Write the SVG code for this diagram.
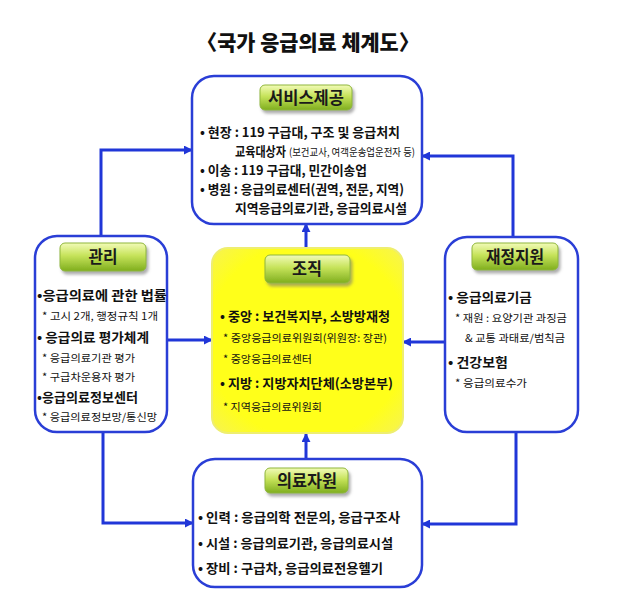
<svg xmlns="http://www.w3.org/2000/svg" width="626" height="599" viewBox="0 0 626 599">
<defs>
<linearGradient id="pill" x1="0" y1="0" x2="0" y2="1">
<stop offset="0" stop-color="#f2fbb8"/>
<stop offset="0.45" stop-color="#c6e35a"/>
<stop offset="1" stop-color="#7fae1e"/>
</linearGradient>
<radialGradient id="yel" cx="0.5" cy="0.5" r="0.75">
<stop offset="0.7" stop-color="#ffff1a"/>
<stop offset="1" stop-color="#f4f060"/>
</radialGradient>
<marker id="arr" viewBox="0 0 10 10" refX="9" refY="5" markerWidth="9" markerHeight="9" markerUnits="userSpaceOnUse" orient="auto">
<path d="M0,0 L10,5 L0,10 z" fill="#2036d8"/>
</marker>
<filter id="sh" x="-20%" y="-20%" width="150%" height="160%">
<feDropShadow dx="2" dy="3" stdDeviation="1.5" flood-color="#777" flood-opacity="0.6"/>
</filter>
</defs>
<style>
.box{fill:#fff;stroke:#2a3ed6;stroke-width:2.5}
.pill{fill:url(#pill);stroke:#8fb63a;stroke-width:1;filter:url(#sh)}
.pt{font-family:"Noto Sans CJK KR","Noto Sans",sans-serif;font-weight:bold;font-size:17px;fill:#1a1a1a;text-anchor:middle}
.m{font-family:"Noto Sans CJK KR","Noto Sans",sans-serif;font-weight:bold;font-size:13px;fill:#111}
.s{font-family:"Noto Sans CJK KR","Noto Sans",sans-serif;font-weight:normal;font-size:10.5px;fill:#111}
.con{fill:none;stroke:#2036d8;stroke-width:3;marker-end:url(#arr)}
</style>

<text x="308" y="50" font-family="'Noto Sans CJK KR',sans-serif" font-weight="900" font-size="21" fill="#111" text-anchor="middle" textLength="223" lengthAdjust="spacingAndGlyphs">〈국가 응급의료 체계도〉</text>

<g id="connectors">
<path class="con" d="M101,236 V150 H192"/>
<path class="con" d="M513,237 V156 H422"/>
<path class="con" d="M306,248 V224"/>
<path class="con" d="M306,459 V434"/>
<path class="con" d="M167,340 H212"/>
<path class="con" d="M445,342 H403"/>
<path class="con" d="M103,432 V523 H193"/>
<path class="con" d="M516,433 V524 H422"/>
</g>

<g id="service">
<rect class="box" x="192" y="76" width="230" height="148" rx="22"/>
<rect class="pill" x="260" y="85" width="92" height="25" rx="5"/>
<text class="pt" x="306" y="104" textLength="76" lengthAdjust="spacingAndGlyphs">서비스제공</text>
<text class="m" x="200" y="137" textLength="200" lengthAdjust="spacingAndGlyphs">• 현장 : 119 구급대, 구조 및 응급처치</text>
<text class="m" x="235" y="156" font-size="11.5" textLength="51" lengthAdjust="spacingAndGlyphs">교육대상자</text>
<text class="s" x="289" y="156" font-size="9" textLength="126" lengthAdjust="spacingAndGlyphs">(보건교사, 여객운송업운전자 등)</text>
<text class="m" x="200" y="175" textLength="167" lengthAdjust="spacingAndGlyphs">• 이송 : 119 구급대, 민간이송업</text>
<text class="m" x="200" y="194" textLength="204" lengthAdjust="spacingAndGlyphs">• 병원 : 응급의료센터(권역, 전문, 지역)</text>
<text class="m" x="235" y="213" textLength="172" lengthAdjust="spacingAndGlyphs">지역응급의료기관, 응급의료시설</text>
</g>

<g id="management">
<rect class="box" x="35" y="236" width="132" height="196" rx="22"/>
<rect class="pill" x="60" y="243" width="86" height="28" rx="5"/>
<text class="pt" x="103" y="263" textLength="29" lengthAdjust="spacingAndGlyphs">관리</text>
<text class="m" x="37" y="300" textLength="130" lengthAdjust="spacingAndGlyphs">•응급의료에 관한 법률</text>
<text class="s" x="42" y="320" textLength="116" lengthAdjust="spacingAndGlyphs">* 고시 2개, 행정규칙 1개</text>
<text class="m" x="37" y="342" textLength="112" lengthAdjust="spacingAndGlyphs">• 응급의료 평가체계</text>
<text class="s" x="42" y="362" textLength="93" lengthAdjust="spacingAndGlyphs">* 응급의료기관 평가</text>
<text class="s" x="42" y="381" textLength="93" lengthAdjust="spacingAndGlyphs">* 구급차운용자 평가</text>
<text class="m" x="37" y="402" textLength="101" lengthAdjust="spacingAndGlyphs">•응급의료정보센터</text>
<text class="s" x="42" y="421" textLength="115" lengthAdjust="spacingAndGlyphs">* 응급의료정보망/통신망</text>
</g>

<g id="organization">
<rect x="212" y="248" width="191" height="185" rx="16" fill="url(#yel)" stroke="#eeee70" stroke-width="2"/>
<rect class="pill" x="265" y="255" width="85" height="28" rx="5"/>
<text class="pt" x="307" y="275" textLength="30" lengthAdjust="spacingAndGlyphs">조직</text>
<text class="m" x="220" y="321" textLength="170" lengthAdjust="spacingAndGlyphs">• 중앙 : 보건복지부, 소방방재청</text>
<text class="s" x="223" y="342" textLength="164" lengthAdjust="spacingAndGlyphs">* 중앙응급의료위원회(위원장: 장관)</text>
<text class="s" x="223" y="363" textLength="89" lengthAdjust="spacingAndGlyphs">* 중앙응급의료센터</text>
<text class="m" x="220" y="388" textLength="173" lengthAdjust="spacingAndGlyphs">• 지방 : 지방자치단체(소방본부)</text>
<text class="s" x="223" y="411" textLength="99" lengthAdjust="spacingAndGlyphs">* 지역응급의료위원회</text>
</g>

<g id="finance">
<rect class="box" x="445" y="237" width="133" height="195" rx="22"/>
<rect class="pill" x="472" y="243" width="86" height="27" rx="5"/>
<text class="pt" x="515" y="263" textLength="58" lengthAdjust="spacingAndGlyphs">재정지원</text>
<text class="m" x="448" y="302" textLength="84" lengthAdjust="spacingAndGlyphs">• 응급의료기금</text>
<text class="s" x="455" y="322" textLength="112" lengthAdjust="spacingAndGlyphs">* 재원 : 요양기관 과징금</text>
<text class="s" x="465" y="342" textLength="100" lengthAdjust="spacingAndGlyphs">&amp; 교통 과태료/범칙금</text>
<text class="m" x="448" y="367" textLength="60" lengthAdjust="spacingAndGlyphs">• 건강보험</text>
<text class="s" x="455" y="387" textLength="72" lengthAdjust="spacingAndGlyphs">* 응급의료수가</text>
</g>

<g id="resources">
<rect class="box" x="193" y="459" width="229" height="128" rx="22"/>
<rect class="pill" x="265" y="468" width="83" height="25" rx="5"/>
<text class="pt" x="307" y="487" textLength="60" lengthAdjust="spacingAndGlyphs">의료자원</text>
<text class="m" x="198" y="522" textLength="202" lengthAdjust="spacingAndGlyphs">• 인력 : 응급의학 전문의, 응급구조사</text>
<text class="m" x="198" y="548" textLength="195" lengthAdjust="spacingAndGlyphs">• 시설 : 응급의료기관, 응급의료시설</text>
<text class="m" x="198" y="573" textLength="185" lengthAdjust="spacingAndGlyphs">• 장비 : 구급차, 응급의료전용헬기</text>
</g>
</svg>
